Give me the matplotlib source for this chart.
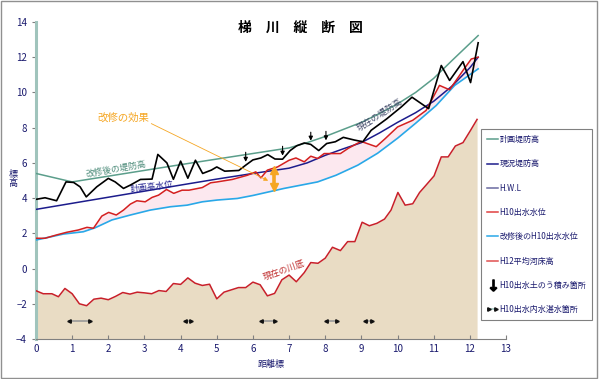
import matplotlib
matplotlib.use("Agg")
import numpy as np
from matplotlib import pyplot as plt
from matplotlib.lines import Line2D
from matplotlib.patches import Rectangle
from matplotlib.legend_handler import HandlerLine2D

plt.rcParams['font.family'] = ['Noto Sans CJK JP', 'DejaVu Sans']

# 計画堤防高 (改修後の堤防高)
plan_x = [0.0, 1.0, 4.0, 7.0, 7.5, 8.0, 8.5, 9.0, 9.5, 10.0, 10.5, 11.0, 11.5, 12.23]
plan_y = [5.4, 4.92, 5.9, 6.85, 7.15, 7.5, 7.9, 8.3, 8.8, 9.35, 10.0, 10.8, 11.8, 13.23]

# 現況堤防高 (現在の堤防高)
levee_x = [0.0, 0.25, 0.57, 0.83, 1.04, 1.22, 1.39, 1.68, 2.0, 2.19, 2.42, 2.61, 2.89, 3.21,
           3.37, 3.62, 3.8, 4.0, 4.2, 4.41, 4.61, 4.85, 5.0, 5.22, 5.61, 5.8, 6.0, 6.22,
           6.41, 6.61, 6.82, 7.03, 7.21, 7.42, 7.6, 7.82, 8.04, 8.28, 8.5, 8.8, 9.04, 9.27,
           9.7, 10.1, 10.4, 10.86, 11.21, 11.44, 11.81, 12.02, 12.23]
levee_y = [3.93, 4.02, 3.85, 4.92, 4.89, 4.64, 4.07, 4.64, 5.12, 4.92, 4.55, 4.74, 5.06, 5.08,
           6.48, 6.0, 5.07, 6.1, 5.13, 6.15, 5.4, 5.59, 5.77, 5.53, 5.57, 5.87, 6.17, 6.28,
           6.47, 6.22, 6.21, 6.7, 6.97, 7.13, 7.05, 6.7, 7.1, 7.2, 7.45, 7.3, 7.2, 7.85,
           8.5, 9.17, 9.73, 9.08, 11.53, 10.68, 11.75, 10.56, 12.82]

# H.W.L (計画高水位)
hwl_x = [0.0, 2.0, 4.0, 5.0, 6.0, 7.0, 7.5, 8.0, 8.5, 9.0, 9.5, 10.0, 10.5, 11.0, 11.5, 12.0, 12.23]
hwl_y = [3.36, 4.05, 4.74, 5.08, 5.4, 5.7, 6.0, 6.43, 6.8, 7.15, 7.7, 8.3, 8.85, 9.5, 10.35, 11.4, 12.0]

# H10出水水位
h10_x = [0.0, 0.25, 0.57, 0.85, 1.17, 1.41, 1.59, 1.82, 2.01, 2.22, 2.42, 2.61, 2.79, 3.02,
         3.21, 3.39, 3.61, 3.81, 4.04, 4.23, 4.6, 4.83, 5.01, 5.43, 5.85, 6.08, 6.22, 6.4,
         6.68, 7.0, 7.19, 7.42, 7.6, 7.79, 7.97, 8.42, 8.64, 8.99, 9.41, 9.66, 10.0, 10.42,
         10.79, 11.16, 11.44, 11.81, 12.04, 12.23]
h10_y = [1.72, 1.72, 1.91, 2.06, 2.19, 2.34, 2.29, 2.98, 3.19, 3.04, 3.32, 3.66, 3.85, 3.79,
         4.04, 4.17, 4.49, 4.27, 4.45, 4.45, 4.6, 4.87, 4.92, 5.06, 5.3, 5.49, 5.15, 5.59,
         5.77, 6.15, 6.28, 6.06, 6.38, 6.25, 6.53, 6.53, 6.83, 7.22, 6.92, 7.38, 8.04, 8.42,
         8.98, 10.4, 10.15, 11.25, 11.9, 12.0]

# 改修後のH10出水水位
after_x = [0.0, 0.76, 1.31, 1.64, 2.1, 2.61, 3.16, 3.72, 4.18, 4.6, 5.01, 5.57, 6.0, 6.86,
           7.79, 8.3, 8.9, 9.45, 10.0, 10.5, 11.07, 11.58, 12.23]
after_y = [1.62, 1.96, 2.09, 2.32, 2.76, 3.04, 3.32, 3.51, 3.6, 3.79, 3.89, 3.98, 4.15, 4.55,
           4.92, 5.3, 5.87, 6.55, 7.4, 8.25, 9.26, 10.4, 11.34]

# H12平均河床高
bed_x = [0.0, 0.2, 0.44, 0.62, 0.8, 1.0, 1.2, 1.4, 1.6, 1.8, 2.0, 2.2, 2.4, 2.6, 2.8, 3.0,
         3.2, 3.4, 3.6, 3.8, 4.0, 4.2, 4.4, 4.6, 4.8, 5.0, 5.2, 5.4, 5.6, 5.8, 6.0, 6.2,
         6.4, 6.6, 6.8, 7.0, 7.2, 7.42, 7.6, 7.8, 8.0, 8.2, 8.42, 8.62, 8.82, 9.02, 9.22,
         9.43, 9.64, 9.82, 10.01, 10.21, 10.42, 10.61, 10.79, 11.01, 11.21, 11.4, 11.6,
         11.81, 12.02, 12.2]
bed_y = [-1.26, -1.43, -1.43, -1.6, -1.13, -1.43, -2.0, -2.11, -1.74, -1.68, -1.77, -1.58,
         -1.36, -1.45, -1.34, -1.38, -1.43, -1.25, -1.3, -0.85, -0.9, -0.53, -0.83, -0.96,
         -0.89, -1.72, -1.34, -1.21, -1.08, -1.08, -0.77, -0.92, -1.55, -1.41, -0.64, -0.37,
         -0.75, -0.23, 0.34, 0.3, 0.59, 1.21, 1.02, 1.53, 1.53, 2.63, 2.43, 2.57, 2.81, 3.32,
         4.32, 3.6, 3.68, 4.32, 4.74, 5.26, 6.34, 6.34, 6.96, 7.15, 7.85, 8.47]

# H10出水土のう積み箇所
bag_x = [5.8, 6.82, 7.6, 8.02]
bag_top = [6.76, 7.1, 7.9, 7.95]
bag_tip = [5.9, 6.25, 7.1, 7.12]

# H10出水内水湛水箇所
pond_start = [0.9, 4.13, 6.23, 8.02, 9.11]
pond_end = [1.5, 4.29, 6.6, 8.32, 9.29]
pond_level = -3

# 改修の効果 (矢印)
effect_x = 6.59
effect_top = 5.75
effect_bottom = 4.48

legend_labels = ['計画堤防高', '現況堤防高', 'H.W.L', 'H10出水水位', '改修後のH10出水水位',
                 'H12平均河床高', 'H10出水土のう積み箇所', 'H10出水内水湛水箇所']

c_plan = '#5b9e8b'
c_navy = '#1c1c8c'
c_red = '#d42020'
c_cyan = '#29a8e8'
c_bed = '#c8202a'
c_txt = '#1a1a6e'
c_orange = '#f5a623'

fig = plt.figure(figsize=(6, 3.79), dpi=100)
ax = fig.add_axes([36 / 600, 1 - 339 / 379, 470 / 600, 317 / 379])

# 河床
ax.fill_between(bed_x, -4, bed_y, color='#e9dcc4', lw=0, zorder=1)
ax.plot(bed_x, bed_y, color=c_bed, lw=1.1, zorder=3)

# 改修の効果の範囲
ax.fill(np.r_[h10_x, after_x[::-1]], np.r_[h10_y, after_y[::-1]], color='#fce8ef', lw=0, zorder=1)

ax.plot(plan_x, plan_y, color=c_plan, lw=1.1, zorder=3)
ax.plot(after_x, after_y, color=c_cyan, lw=1.2, zorder=3)
ax.plot(hwl_x, hwl_y, color=c_navy, lw=1.1, zorder=3)
ax.plot(h10_x, h10_y, color=c_red, lw=1.1, zorder=4)
ax.plot(levee_x, levee_y, color='k', lw=1.2, zorder=5)

for x, t, b in zip(bag_x, bag_top, bag_tip):
    ax.annotate('', xy=(x, b), xytext=(x, t),
                arrowprops=dict(arrowstyle='-|>', color='k', lw=0.8, mutation_scale=6), zorder=6)

for s, e in zip(pond_start, pond_end):
    ax.plot([s, e], [pond_level, pond_level], color='#999999', lw=1.2, zorder=4)
    ax.plot([s], [pond_level], marker='<', color='#111111', ms=2.5, zorder=5)
    ax.plot([e], [pond_level], marker='>', color='#111111', ms=2.5, zorder=5)

# 改修の効果
ax.text(2.41, 8.59, '改修の効果', color=c_orange, fontsize=7.5, ha='center', va='center')
ax.annotate('', xy=(6.49, 4.92), xytext=(3.12, 8.3),
            arrowprops=dict(arrowstyle='-|>', color=c_orange, lw=0.6, mutation_scale=6), zorder=6)
ax.plot([effect_x, effect_x], [effect_top - 0.2, effect_bottom + 0.2], color=c_orange, lw=2.6, zorder=7)
ax.plot([effect_x], [effect_top - 0.15], marker='^', color=c_orange, ms=6, zorder=7)
ax.plot([effect_x], [effect_bottom + 0.15], marker='v', color=c_orange, ms=6, zorder=7)

ax.text(2.2, 5.64, '改修後の堤防高', color='#4a8a78', fontsize=6.3, rotation=10, ha='center', va='center')
ax.text(3.2, 4.64, '計画高水位', color=c_navy, fontsize=6.3, rotation=7, ha='center', va='center')
ax.text(9.5, 8.75, '現在の堤防高', color='#404868', fontsize=6.3, rotation=33, ha='center', va='center')
ax.text(6.85, -0.1, '現在の川底', color='#c03030', fontsize=6.3, rotation=20, ha='center', va='center')

ax.set_xlim(0, 13)
ax.set_ylim(-4, 14)
ax.set_xticks(range(0, 14))
ax.set_yticks(range(-4, 15, 2))
ax.tick_params(axis='x', direction='in', length=3, colors='#808080', labelcolor=c_txt, labelsize=7)
ax.tick_params(axis='y', direction='out', length=3, colors='#808080', labelcolor=c_txt, labelsize=7)
for sp in ['top', 'right']:
    ax.spines[sp].set_visible(False)
ax.spines['left'].set_color('#a0c4bc')
ax.spines['left'].set_linewidth(2.2)
ax.spines['bottom'].set_color('#808080')
ax.spines['bottom'].set_linewidth(0.8)

fig.text(0.5, 1 - 28 / 379, '梯　川　縦　断　図', ha='center', va='center', fontsize=10, weight='bold')
fig.text(13 / 600, 1 - 179 / 379, '標\n高', ha='center', va='center', fontsize=6.5, color=c_txt, linespacing=1.1)
fig.text(271 / 600, 1 - 364 / 379, '距離標', ha='center', va='center', fontsize=6.5, color=c_txt)

# 凡例
pond_handle = Line2D([], [], color='#a0c4bc', lw=1.2, marker='>', mfc='#111111', mec='#111111', ms=2.5)
handles = [
    Line2D([], [], color=c_plan, lw=1.1),
    Line2D([], [], color=c_navy, lw=1.1),
    Line2D([], [], color='#6a6aa0', lw=1.1),
    Line2D([], [], color='#e04040', lw=1.1),
    Line2D([], [], color=c_cyan, lw=1.1),
    Line2D([], [], color='#e05050', lw=1.1),
    Line2D([], [], color='k', ls='none', marker=r'$\downarrow$', ms=8),
    pond_handle,
]
leg = ax.legend(handles, legend_labels, loc='upper left', bbox_to_anchor=(481 / 600, 1 - 129 / 379),
                bbox_transform=fig.transFigure, fontsize=5.8, labelspacing=1.9, handlelength=1.4,
                handletextpad=0.15, borderpad=0.75, borderaxespad=0, fancybox=False,
                edgecolor='#808080', framealpha=1,
                handler_map={pond_handle: HandlerLine2D(numpoints=2)})
leg.get_frame().set_linewidth(0.8)
for t in leg.get_texts():
    t.set_color(c_txt)

fig.patches.append(Rectangle((1 / 600, 1 / 379), 596 / 600, 377 / 379, transform=fig.transFigure,
                             fill=False, edgecolor='#909090', lw=1))

fig.savefig('out.png', dpi=100)
